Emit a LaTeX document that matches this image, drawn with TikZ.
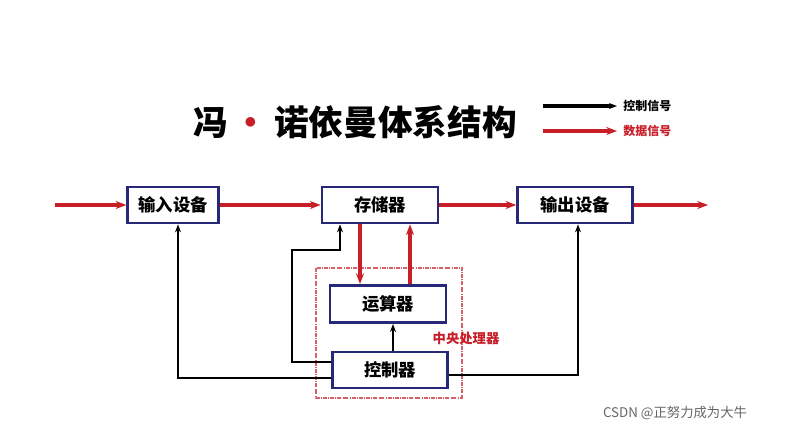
\documentclass[tikz,border=0pt]{standalone}
\usepackage{fontspec}
\setmainfont{Noto Sans CJK SC}
\usetikzlibrary{arrows.meta}
\definecolor{dred}{RGB}{200,30,40}
\definecolor{dblue}{RGB}{40,40,120}
\tikzset{
  unit/.style={draw=dblue,line width=2pt,fill=white,minimum height=27pt,inner sep=0pt,font=\bfseries\fontsize{13}{13}\selectfont},
  data/.style={dred,line width=2.6pt,-{Stealth[length=8pt]}},
  ctrl/.style={black,line width=1.7pt,-{Stealth[length=6pt]}}
}
\begin{document}
\begin{tikzpicture}[x=0.75pt,y=-0.75pt]
\useasboundingbox (0,0) rectangle (801,436);

% title and legend
\node (title) at (355,122) {\bfseries\fontsize{26}{26}\selectfont 冯\,{\color{dred}•}\,诺依曼体系结构};
\coordinate (c1) at (543,106); \coordinate (c2) at (617,106);
\coordinate (d1) at (543,131); \coordinate (d2) at (617,131);
\draw [ctrl,line width=2.8pt] (c1) -- (c2) node[right,black,font=\bfseries\fontsize{9}{9}\selectfont] {控制信号};
\draw [data,line width=2.8pt] (d1) -- (d2) node[right,dred,font=\bfseries\fontsize{9}{9}\selectfont] {数据信号};

% cpu frame
\draw [dred!70,densely dashdotted,line width=.8pt] (316,268) rectangle (462,398);
\node (cpu) at (466,338) {\color{dred}\bfseries\fontsize{10}{10}\selectfont 中央处理器};

% units
\node [unit,minimum width=68pt] (in)  at (173,205) {输入设备};
\node [unit,minimum width=87pt] (mem) at (380,205) {存储器};
\node [unit,minimum width=86pt] (out) at (575,205) {输出设备};
\node [unit,minimum width=87pt,minimum height=28pt] (alu) at (388,304) {运算器};
\node [unit,minimum width=86pt] (cu)  at (390,370) {控制器};

% data flow
\coordinate (src) at (55,205); \coordinate (dst) at (708,205);
\draw [data] (src) -- (in);
\draw [data] (in) -- (mem);
\draw [data] (mem) -- (out);
\draw [data] (out) -- (dst);
\draw [data] (mem.south -| 360,0) -- (alu.north -| 360,0);
\draw [data] (alu.north -| 410,0) -- (mem.south -| 410,0);

% control flow
\draw [ctrl] (cu.north -| 393,0) -- (alu.south -| 393,0);
\draw [ctrl] (cu.west |- 0,362) -- (292,362) -- (292,250) -- (340,250) -- (mem.south -| 340,0);
\draw [ctrl] (cu.west |- 0,378) -- (178,378) -- (in.south -| 178,0);
\draw [ctrl] (cu.east |- 0,375) -- (578,375) -- (out.south -| 578,0);

\node [gray!80!black,font=\fontsize{10}{10}\selectfont] (mark) at (675,413) {CSDN @正努力成为大牛};
\end{tikzpicture}
\end{document}
